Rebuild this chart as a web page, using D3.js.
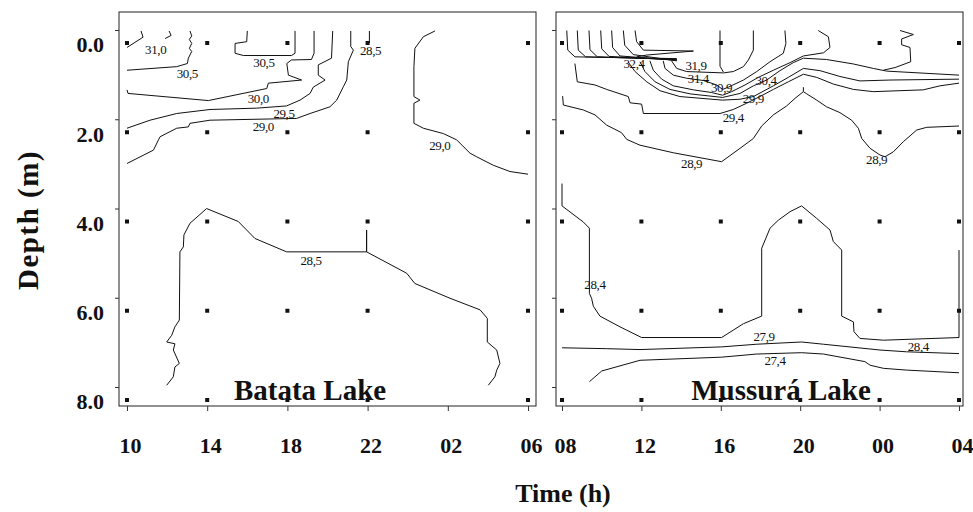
<!DOCTYPE html>
<html>
<head>
<meta charset="utf-8">
<script src="https://cdn.jsdelivr.net/npm/d3@7"></script>
<style>
  body { margin: 0; background: #fff; }
  text { font-family: "Liberation Serif", "Times New Roman", serif; fill: #111; }
  .tick line { stroke: #333; }
  .domain { display: none; }
</style>
</head>
<body>
<script>
// time axis labels (hours of day) and sampling grid
const batataTimes = ["10", "14", "18", "22", "02", "06"];
const mussuraTimes = ["08", "12", "16", "20", "00", "04"];
const hourTicks = [0, 4, 8, 12, 16, 20];          // hours since first sample
const depthTicks = [0, 2, 4, 6, 8];               // m
const batataSampleHours = [0, 4, 8, 12, 20];
const mussuraSampleHours = [0, 4, 8, 12, 16, 20];

// isotherms, [hours since start, depth m]
// Batata Lake
const bat310a = [[0,0.1],[0.8,-0.13],[0.7,-0.27]];
const bat310b = [[2.1,-0.27],[2.2,-0.17],[1.9,-0.1]];
const bat305a = [[3.14,-0.27],[3.23,-0.16],[3.11,-0.08],[3.23,0.01],[3.11,0.12],[3.23,0.19],[3.06,0.34],[3.01,0.46],[2.48,0.53],[0,0.61]];
const bat305b = [[6.0,-0.27],[5.97,-0.03],[5.39,0.01],[5.39,0.23],[5.8,0.28],[8.21,0.28],[8.38,0.23],[8.38,-0.27]];
const bat300 = [[0,1.05],[0.05,1.13],[4.06,1.29],[6.97,1.02],[7.05,0.9],[8.71,0.83],[8.05,0.72],[7.97,0.46],[8.2,0.38],[9.2,0.37],[9.33,0.23],[9.33,-0.27]];
const bat295 = [[0,1.91],[1.15,1.73],[2.48,1.58],[4.14,1.49],[6.47,1.46],[7.96,1.41],[8.63,1.28],[9.13,1.13],[9.29,0.99],[9.88,0.83],[9.54,0.72],[9.54,0.49],[10.2,0.34],[10.26,-0.27]];
const bat290a = [[11.16,-0.27],[11.16,0.08],[11.29,0.16],[11.04,0.42],[10.96,0.83],[10.79,0.98],[10.46,1.28],[10.12,1.43],[9.13,1.58],[8.46,1.69],[4.14,1.73],[3.14,1.8],[3.06,1.88],[2.48,1.91],[1.65,2.1],[1.57,2.17],[1.32,2.4],[0,2.7]];
const bat285a = [[12.09,-0.27],[12.09,0.0]];
const bat290b = [[15.36,-0.27],[14.78,-0.14],[14.36,0.12],[14.31,0.53],[14.31,1.2],[14.61,1.28],[14.31,1.35],[14.31,1.8],[14.78,1.91],[15.78,2.03],[16.44,2.17],[17.11,2.47],[17.44,2.55],[18.27,2.74],[19.1,2.88],[20,2.94]];
const bat285b = [[1.98,7.67],[2.31,7.48],[2.39,7.26],[2.61,7.18],[2.31,6.88],[2.39,6.74],[1.98,6.7],[2.23,6.55],[2.39,6.36],[2.61,6.21],[2.64,4.68],[2.81,4.57],[2.84,4.3],[3.14,4.04],[3.97,3.71],[5.55,4.0],[6.38,4.38],[7.96,4.68],[11.95,4.68],[11.95,4.19],[11.95,4.68],[13.95,5.16],[14.36,5.39],[16.11,5.72],[17.61,5.98],[17.97,6.17],[17.97,6.7],[18.44,6.88],[18.6,7.18],[18.44,7.33],[18.35,7.48],[18.02,7.67]];
const batataLines = [bat310a, bat310b, bat305a, bat305b, bat300, bat295, bat290a, bat285a, bat290b, bat285b];
const batataLabels = [[1.43,0.14,"31,0"],[3.01,0.68,"30,5"],[6.83,0.44,"30,5"],[6.55,1.24,"30,0"],[7.83,1.58,"29,5"],[6.8,1.86,"29,0"],[12.15,0.16,"28,5"],[15.6,2.29,"29,0"],[9.18,4.87,"28,5"]];

// Mussurá Lake
const mus324a = [[0.24,-0.28],[0.29,0.16],[0.65,0.31],[5.78,0.35]];
const mus324b = [[0.77,-0.28],[0.82,0.16],[1.19,0.31],[5.78,0.36]];
const mus324c = [[1.36,-0.28],[1.41,0.15],[1.78,0.31],[5.78,0.37]];
const mus324d = [[1.95,-0.28],[2.0,0.13],[2.37,0.3],[5.78,0.38]];
const mus324e = [[2.5,-0.28],[2.55,0.1],[2.92,0.29],[5.78,0.39]];
const mus324f = [[3.09,-0.28],[3.16,0.05],[3.59,0.26],[5.78,0.4]];
const mus324g = [[3.68,-0.28],[3.76,-0.03],[4.1,0.16],[6.62,0.18],[4.27,0.27],[3.76,0.31]];
const mus319a = [[7.96,-0.28],[7.96,0.52],[8.13,0.65]];
const mus319 = [[5.52,0.4],[5.78,0.57],[6.28,0.64],[8.13,0.67],[8.63,0.64],[9.14,0.53],[9.39,0.38],[9.64,0.16],[9.64,-0.28]];
const mus314 = [[5.1,0.4],[5.19,0.57],[5.61,0.72],[6.28,0.79],[7.12,0.84],[7.79,0.94],[8.09,1.04],[8.38,0.99],[9.14,0.83],[9.81,0.64],[10.48,0.42],[11.15,0.23],[11.28,0.01],[11.23,-0.28]];
const mus309 = [[4.43,0.4],[4.6,0.61],[5.02,0.81],[5.61,0.96],[6.62,1.05],[7.54,1.11],[8.09,1.17],[8.55,1.09],[9.22,0.94],[9.89,0.77],[10.65,0.61],[11.49,0.44],[12.16,0.29],[13.17,0.22],[13.5,0.1],[13.42,-0.14],[12.91,-0.28]];
const mus304 = [[3.93,0.42],[4.18,0.64],[4.69,0.87],[5.44,1.04],[6.45,1.14],[8.09,1.22],[8.97,1.13],[9.64,0.96],[10.31,0.83],[10.98,0.62],[11.65,0.44],[12.16,0.34],[13.33,0.37],[14.68,0.47],[15.68,0.57],[16.36,0.63],[20,0.72]];
const mus299 = [[3.34,0.43],[3.68,0.64],[4.27,0.87],[4.94,1.07],[5.94,1.2],[8.09,1.28],[8.97,1.26],[9.64,1.2],[10.65,0.96],[11.4,0.77],[12.16,0.57],[13.0,0.62],[14.0,0.75],[15.01,0.85],[16.52,0.83],[20,0.81]];
const mus294 = [[0.65,0.46],[0.77,0.87],[1.66,0.94],[2.25,1.04],[3.34,1.2],[3.43,1.34],[4.01,1.37],[4.1,1.58],[7.96,1.58],[8.63,1.49],[9.3,1.35],[9.97,1.2],[10.65,1.04],[11.4,0.87],[12.16,0.7],[12.83,0.77],[13.67,0.92],[14.68,1.04],[15.68,1.09],[18.2,1.05],[19.04,0.96],[20,0.9]];
const mus30z = [[17.03,-0.28],[17.7,-0.19],[17.11,-0.09],[17.11,0.04],[17.53,0.1],[17.57,0.42],[16.78,0.55],[16.19,0.61]];
const mus289 = [[0.03,1.19],[0.07,1.39],[1.07,1.5],[1.66,1.61],[2.25,1.84],[3.0,2.01],[3.26,2.16],[3.93,2.29],[5.61,2.46],[8.04,2.66],[8.97,2.36],[9.64,2.14],[10.06,1.86],[10.65,1.61],[11.32,1.41],[11.74,1.24],[12.16,1.09],[12.33,1.14],[12.83,1.28],[13.33,1.43],[14.0,1.56],[14.59,1.73],[14.93,1.91],[15.1,2.14],[15.52,2.36],[16.02,2.51],[16.27,2.55],[16.69,2.44],[17.2,2.21],[17.87,1.95],[18.37,1.89],[20,1.86]];
const mus289s = [[12.16,0.99],[12.16,1.09]];
const mus284 = [[0,3.15],[0,3.65],[1.07,4.01],[1.38,4.15],[1.38,5.61],[1.49,5.72],[1.58,5.9],[1.91,6.12],[2.92,6.36],[4.01,6.6],[8.04,6.6],[9.14,6.29],[10.06,6.12],[10.06,4.6],[10.48,4.15],[10.9,3.97],[11.49,3.78],[12.07,3.65],[12.83,3.93],[13.5,4.19],[13.67,4.45],[14.09,4.64],[14.09,6.12],[14.68,6.25],[14.71,6.47],[15.01,6.62],[16.19,6.66],[20,6.6],[20,4.64]];
const mus279 = [[0,6.83],[2.25,6.85],[3.93,6.87],[8.04,6.81],[9.81,6.75],[12.07,6.7],[13.17,6.75],[16.02,6.88],[17.36,6.92],[20,6.96]];
const mus274 = [[1.38,7.59],[2.0,7.35],[3.93,7.11],[8.04,7.04],[9.81,6.97],[12.07,6.94],[13.17,6.97],[15.26,7.14],[15.52,7.22],[16.19,7.29],[17.36,7.33],[20,7.39]];
const mussuraLines = [mus324a, mus324b, mus324c, mus324d, mus324e, mus324f, mus324g, mus319a, mus319, mus314, mus309, mus304, mus299, mus294, mus30z, mus289, mus289s, mus284, mus279, mus274];
const mussuraLabels = [[3.63,0.46,"32,4"],[6.75,0.5,"31,9"],[6.87,0.8,"31,4"],[8.04,0.99,"30,9"],[10.28,0.83,"30,4"],[9.64,1.24,"29,9"],[8.63,1.67,"29,4"],[6.53,2.7,"28,9"],[15.85,2.62,"28,9"],[1.66,5.42,"28,4"],[10.18,6.57,"27,9"],[17.95,6.81,"28,4"],[10.73,7.11,"27,4"]];

const W = 973, H = 512;
const frameTop = 12, frameBottom = 406;
const tickShift = -13;   // tick marks sit a little above the sample rows

const svg = d3.select("body").append("svg")
  .attr("width", W)
  .attr("height", H);

const y = d3.scaleLinear().domain([0, 8]).range([43, 400]);

const panels = [
  { x: d3.scaleLinear().domain([0, 20]).range([127, 528]), left: 119, right: 536,
    lines: batataLines, labels: batataLabels, hours: batataSampleHours, times: batataTimes,
    title: "Batata Lake", titleX: 310 },
  { x: d3.scaleLinear().domain([0, 20]).range([562, 959]), left: 556, right: 963,
    lines: mussuraLines, labels: mussuraLabels, hours: mussuraSampleHours, times: mussuraTimes,
    title: "Mussurá Lake", titleX: 781 }
];

panels.forEach(p => {
  const g = svg.append("g");

  // frame
  g.append("rect")
    .attr("x", p.left).attr("y", frameTop)
    .attr("width", p.right - p.left).attr("height", frameBottom - frameTop)
    .attr("fill", "none").attr("stroke", "#222").attr("stroke-width", 1);

  // y tick marks
  g.append("g")
    .attr("transform", `translate(${p.left},${tickShift})`)
    .call(d3.axisLeft(y).tickValues(depthTicks).tickSize(4).tickFormat(""));

  // x ticks + labels
  const times = p.times;
  const xa = g.append("g")
    .attr("transform", `translate(0,${frameBottom})`)
    .call(d3.axisBottom(p.x).tickValues(hourTicks).tickSize(5).tickPadding(26)
      .tickFormat((d, i) => times[i]));
  xa.selectAll("text")
    .attr("dx", 3)
    .style("font-size", "22px")
    .style("font-weight", "bold");

  // isotherms
  const line = d3.line().x(d => p.x(d[0])).y(d => y(d[1]));
  g.selectAll("path.iso")
    .data(p.lines)
    .enter()
    .append("path")
    .attr("class", "iso")
    .attr("d", line)
    .attr("fill", "none")
    .attr("stroke", "#111")
    .attr("stroke-width", 1);

  // sampling points
  const pts = [];
  p.hours.forEach(h => depthTicks.forEach(dp => pts.push([h, dp])));
  g.selectAll("rect.pt")
    .data(pts)
    .enter()
    .append("rect")
    .attr("class", "pt")
    .attr("x", d => p.x(d[0]) - 2)
    .attr("y", d => y(d[1]) - 2)
    .attr("width", 4).attr("height", 4)
    .attr("fill", "#111");

  // isotherm labels
  g.selectAll("text.lbl")
    .data(p.labels)
    .enter()
    .append("text")
    .attr("class", "lbl")
    .attr("x", d => p.x(d[0]))
    .attr("y", d => y(d[1]))
    .attr("dy", "0.35em")
    .attr("text-anchor", "middle")
    .style("font-size", "13px")
    .style("letter-spacing", "-0.4px")
    .text(d => d[2]);

  // lake name
  g.append("text")
    .attr("x", p.titleX).attr("y", 400)
    .attr("text-anchor", "middle")
    .style("font-size", "29px")
    .style("font-weight", "bold")
    .text(p.title);
});

// depth labels
svg.append("g")
  .attr("transform", `translate(119,0)`)
  .call(d3.axisLeft(y).tickValues(depthTicks).tickSize(0).tickPadding(15).tickFormat(d3.format(".1f")))
  .selectAll("text")
  .attr("dy", "0.4em")
  .style("font-size", "22px")
  .style("font-weight", "bold");

// axis titles
svg.append("text")
  .attr("transform", "translate(38,220) rotate(-90)")
  .attr("text-anchor", "middle")
  .style("font-size", "29px")
  .style("font-weight", "bold")
  .style("letter-spacing", "1.5px")
  .text("Depth (m)");

svg.append("text")
  .attr("x", 563).attr("y", 502)
  .attr("text-anchor", "middle")
  .style("font-size", "26px")
  .style("font-weight", "bold")
  .text("Time (h)");
</script>
</body>
</html>
